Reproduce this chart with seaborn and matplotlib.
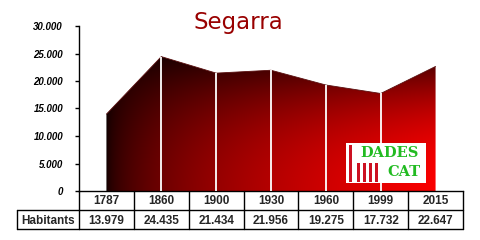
import numpy as np
import pandas as pd
import matplotlib
matplotlib.use("Agg")
import matplotlib.pyplot as plt
import seaborn as sns
from matplotlib.transforms import blended_transform_factory
from matplotlib.patches import Rectangle

years = ["1787", "1860", "1900", "1930", "1960", "1999", "2015"]
habitants = [13979, 24435, 21434, 21956, 19275, 17732, 22647]
row_label = "Habitants"
title = "Segarra"
yticks = [0, 5000, 10000, 15000, 20000, 25000, 30000]

def fmt(v):
    return f"{v:,}".replace(",", ".")

sns.set_style("white")
plt.rcParams["font.family"] = ["Liberation Sans", "DejaVu Sans"]

W, H = 480, 240
fig = plt.figure(figsize=(4.8, 2.4), dpi=100)
fig.patch.set_facecolor("white")

def fx(px):
    return px / W

def fy(py):
    return 1 - py / H

ax = fig.add_axes([fx(79), fy(191), 384 / W, 165 / H])
ax.set_facecolor("white")

df = pd.DataFrame({"pos": np.arange(len(years)), "habitants": habitants, "year": years})

# clip polygon for the gradient area
poly = ax.fill_between(df["pos"], df["habitants"], 0, color="none", lw=0)

# gradient image: dark at left / top, bright red at bottom right
nx, ny = 300, 300
u = np.linspace(0, 1, nx)[None, :]
v = np.linspace(0, 1, ny)[:, None]
inten = (0.05 + 0.95 * u ** 0.5) * (1 - 0.8 * v ** 2.2)
inten = np.clip(inten, 0, 1)
img = np.zeros((ny, nx, 3))
img[..., 0] = 0.98 * inten
im = ax.imshow(img, extent=[0, len(years) - 1, 0, 25000], origin="lower",
               aspect="auto", zorder=1, interpolation="bilinear")
im.set_clip_path(poly.get_paths()[0], transform=ax.transData)

sns.lineplot(data=df, x="pos", y="habitants", ax=ax, color="#5a1010", lw=0.6, zorder=2)
ax.vlines(df["pos"][1:-1], 0, df["habitants"][1:-1], color="white", lw=1.3, zorder=3)

ax.set_xlim(-0.5, len(years) - 0.5)
ax.set_ylim(0, 30000)
ax.set_xlabel("")
ax.set_ylabel("")
ax.set_xticks([])
ax.set_yticks(yticks)
ax.set_yticklabels([fmt(t) for t in yticks], fontsize=7, fontweight="bold",
                   fontstyle="italic")
ax.tick_params(axis="y", direction="out", length=3, width=1, pad=8.5, left=True,
               colors="black")
for s in ["top", "right"]:
    ax.spines[s].set_visible(False)
for s in ["left", "bottom"]:
    ax.spines[s].set_color("black")
    ax.spines[s].set_linewidth(1.0)

# data table
trans = blended_transform_factory(ax.transData, fig.transFigure)
lw = 1.0
xL, xR = -0.5, len(years) - 0.5
for py in [210, 229]:
    fig.add_artist(plt.Line2D([xL, xR], [fy(py), fy(py)], transform=trans, color="black", lw=lw))
    fig.add_artist(plt.Line2D([fx(17), fx(79)], [fy(py), fy(py)], color="black", lw=lw))
for i in range(len(years) + 1):
    xb = i - 0.5
    fig.add_artist(plt.Line2D([xb, xb], [fy(191), fy(229)], transform=trans, color="black", lw=lw))
fig.add_artist(plt.Line2D([fx(17), fx(17)], [fy(210), fy(229)], color="black", lw=lw))

for i, (yr, val) in enumerate(zip(years, habitants)):
    fig.text(i, fy(201), yr, transform=trans, ha="center", va="center",
             fontsize=8.5, fontweight="bold")
    fig.text(i, fy(220.5), fmt(val), transform=trans, ha="center", va="center",
             fontsize=8.5, fontweight="bold")
fig.text(fx(48), fy(220.5), row_label, ha="center", va="center", fontsize=8.5,
         fontweight="bold")

# title
fig.text(fx(238), fy(22), title, ha="center", va="center", fontsize=16.5,
         color="#990000", family=["DejaVu Sans"])

# logo
fig.add_artist(Rectangle((fx(346), fy(183)), 80 / W, 40 / H, transform=fig.transFigure,
                         facecolor="white", edgecolor="none", zorder=5))
for k, (bx, top) in enumerate([(349, 145), (357, 163), (363, 163), (369, 163), (375, 163)]):
    fig.add_artist(Rectangle((fx(bx), fy(182)), 3 / W, (182 - top) / H,
                             transform=fig.transFigure, facecolor="#cc1122",
                             edgecolor="none", zorder=6))
fig.text(fx(390), fy(153), "DADES", ha="center", va="center", fontsize=10.5,
         fontweight="bold", color="#22bb22", zorder=7, family=["DejaVu Serif"])
fig.text(fx(404), fy(172), "CAT", ha="center", va="center", fontsize=10.5,
         fontweight="bold", color="#22bb22", zorder=7, family=["DejaVu Serif"])

fig.savefig("out.png", dpi=100, facecolor="white")
